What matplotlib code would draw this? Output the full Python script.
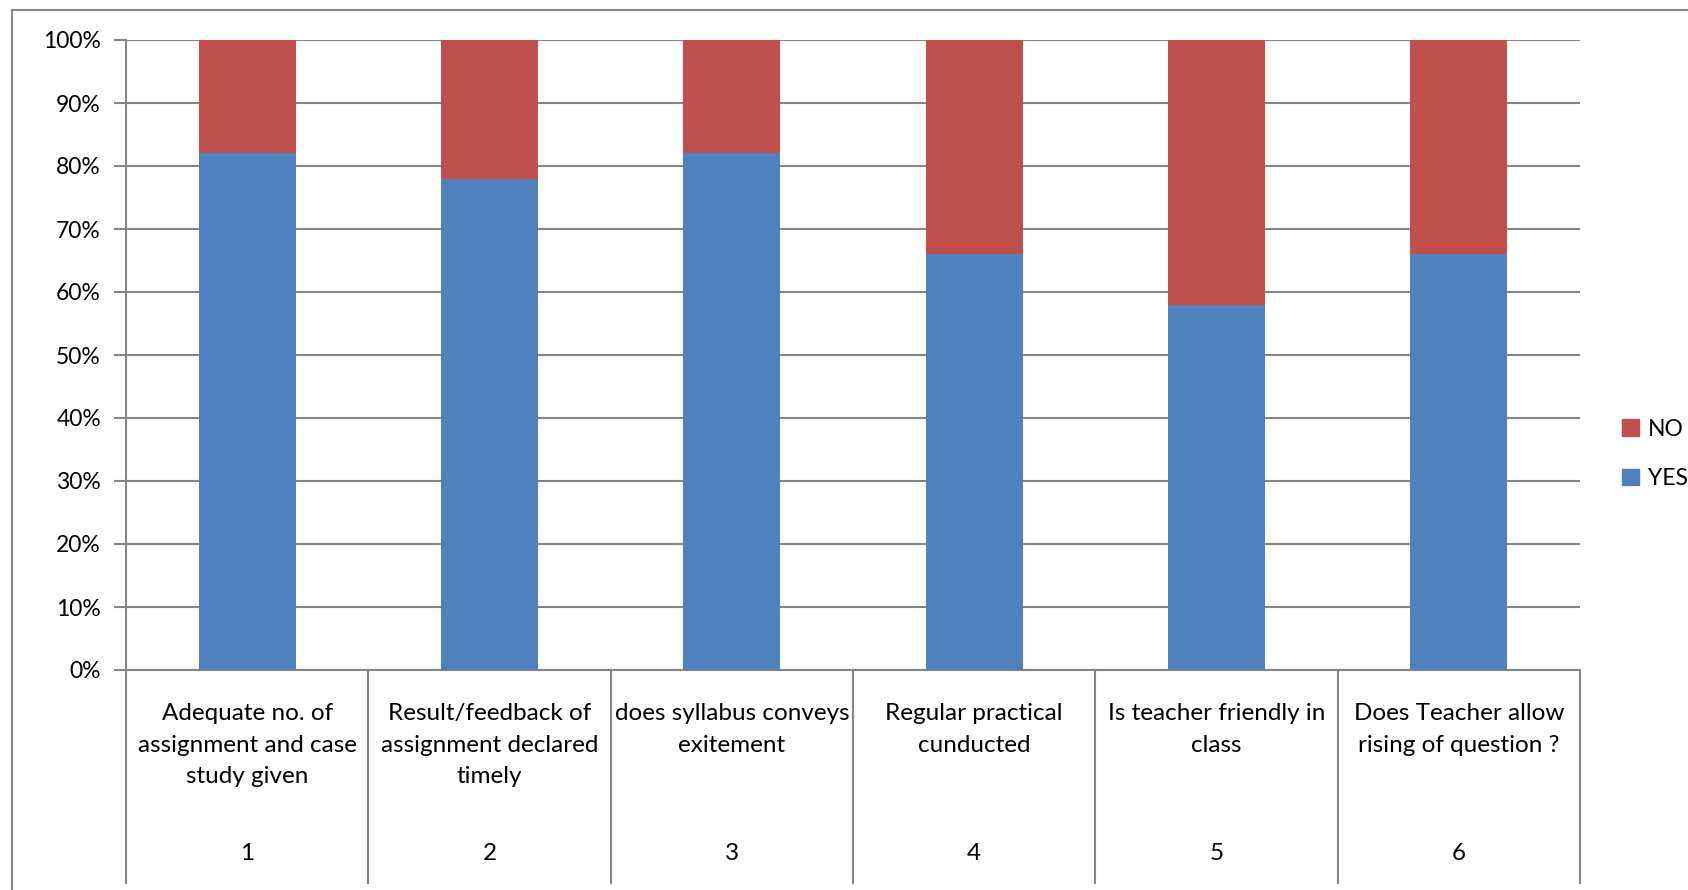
import matplotlib
matplotlib.use("Agg")
import matplotlib.pyplot as plt
import matplotlib.patches as mpatches
from matplotlib.lines import Line2D
from matplotlib.ticker import PercentFormatter
import matplotlib.transforms as mtrans

plt.rcParams['font.family'] = ['Lato', 'DejaVu Sans']

categories = [
    "Adequate no. of\nassignment and case\nstudy given",
    "Result/feedback of\nassignment declared\ntimely",
    "does syllabus conveys\nexitement",
    "Regular practical\ncunducted",
    "Is teacher friendly in\nclass",
    "Does Teacher allow\nrising of question ?",
]
numbers = ["1", "2", "3", "4", "5", "6"]
yes_vals = [82, 78, 82, 66, 58, 66]
no_vals = [18, 22, 18, 34, 42, 34]

BLUE = "#4F81BD"
RED = "#C0504D"
GRID = "#868686"

W, H = 1688, 890
fig = plt.figure(figsize=(W / 100, H / 100), dpi=100)
ax = fig.add_axes([126 / W, 1 - 670 / H, (1580 - 126) / W, (670 - 40) / H])

x = list(range(len(categories)))
ax.bar(x, yes_vals, width=0.4, color=BLUE, zorder=3)
ax.bar(x, no_vals, bottom=yes_vals, width=0.4, color=RED, zorder=3)

ax.set_xlim(-0.5, len(categories) - 0.5)
ax.set_ylim(0, 100)
ax.set_yticks(range(0, 101, 10))
ax.yaxis.set_major_formatter(PercentFormatter(decimals=0))
ax.grid(axis='y', color=GRID, linewidth=1.5, zorder=0)
ax.set_xticks([])
for s in ['top', 'right']:
    ax.spines[s].set_visible(False)
ax.spines['left'].set_color(GRID)
ax.spines['left'].set_linewidth(1.5)
ax.spines['bottom'].set_color(GRID)
ax.spines['bottom'].set_linewidth(1.5)
ax.tick_params(axis='y', length=9, width=1.5, color=GRID, labelsize=16.5, pad=9)

# category table below axis
trans = mtrans.blended_transform_factory(ax.transData, ax.transAxes)
tbot = (670 - 883) / 630.0
for i in range(len(categories) + 1):
    ax.add_line(Line2D([i - 0.5, i - 0.5], [0, tbot], transform=trans,
                       color=GRID, linewidth=1.5, clip_on=False))
for i, (lab, num) in enumerate(zip(categories, numbers)):
    ax.text(i, (670 - 703) / 630.0, lab, transform=trans, ha='center', va='top',
            fontsize=17.5, linespacing=1.63, clip_on=False)
    ax.text(i, (670 - 853) / 630.0, num, transform=trans, ha='center', va='center',
            fontsize=17.5, clip_on=False)

# outer chart frame
fig.add_artist(mpatches.Rectangle((12 / W, -0.5), 2, 1.5 - 10 / H,
                                  transform=fig.transFigure, fill=False,
                                  edgecolor=GRID, linewidth=1.5))

handles = [mpatches.Patch(color=RED, label="NO"),
           mpatches.Patch(color=BLUE, label="YES")]
fig.legend(handles=handles, loc='center left',
           bbox_to_anchor=(1622 / W, 1 - 454 / H), frameon=False,
           borderpad=0, borderaxespad=0,
           fontsize=16.5, handlelength=0.72, handleheight=0.72,
           handletextpad=0.4, labelspacing=1.25)

fig.savefig("out.png", dpi=100)
